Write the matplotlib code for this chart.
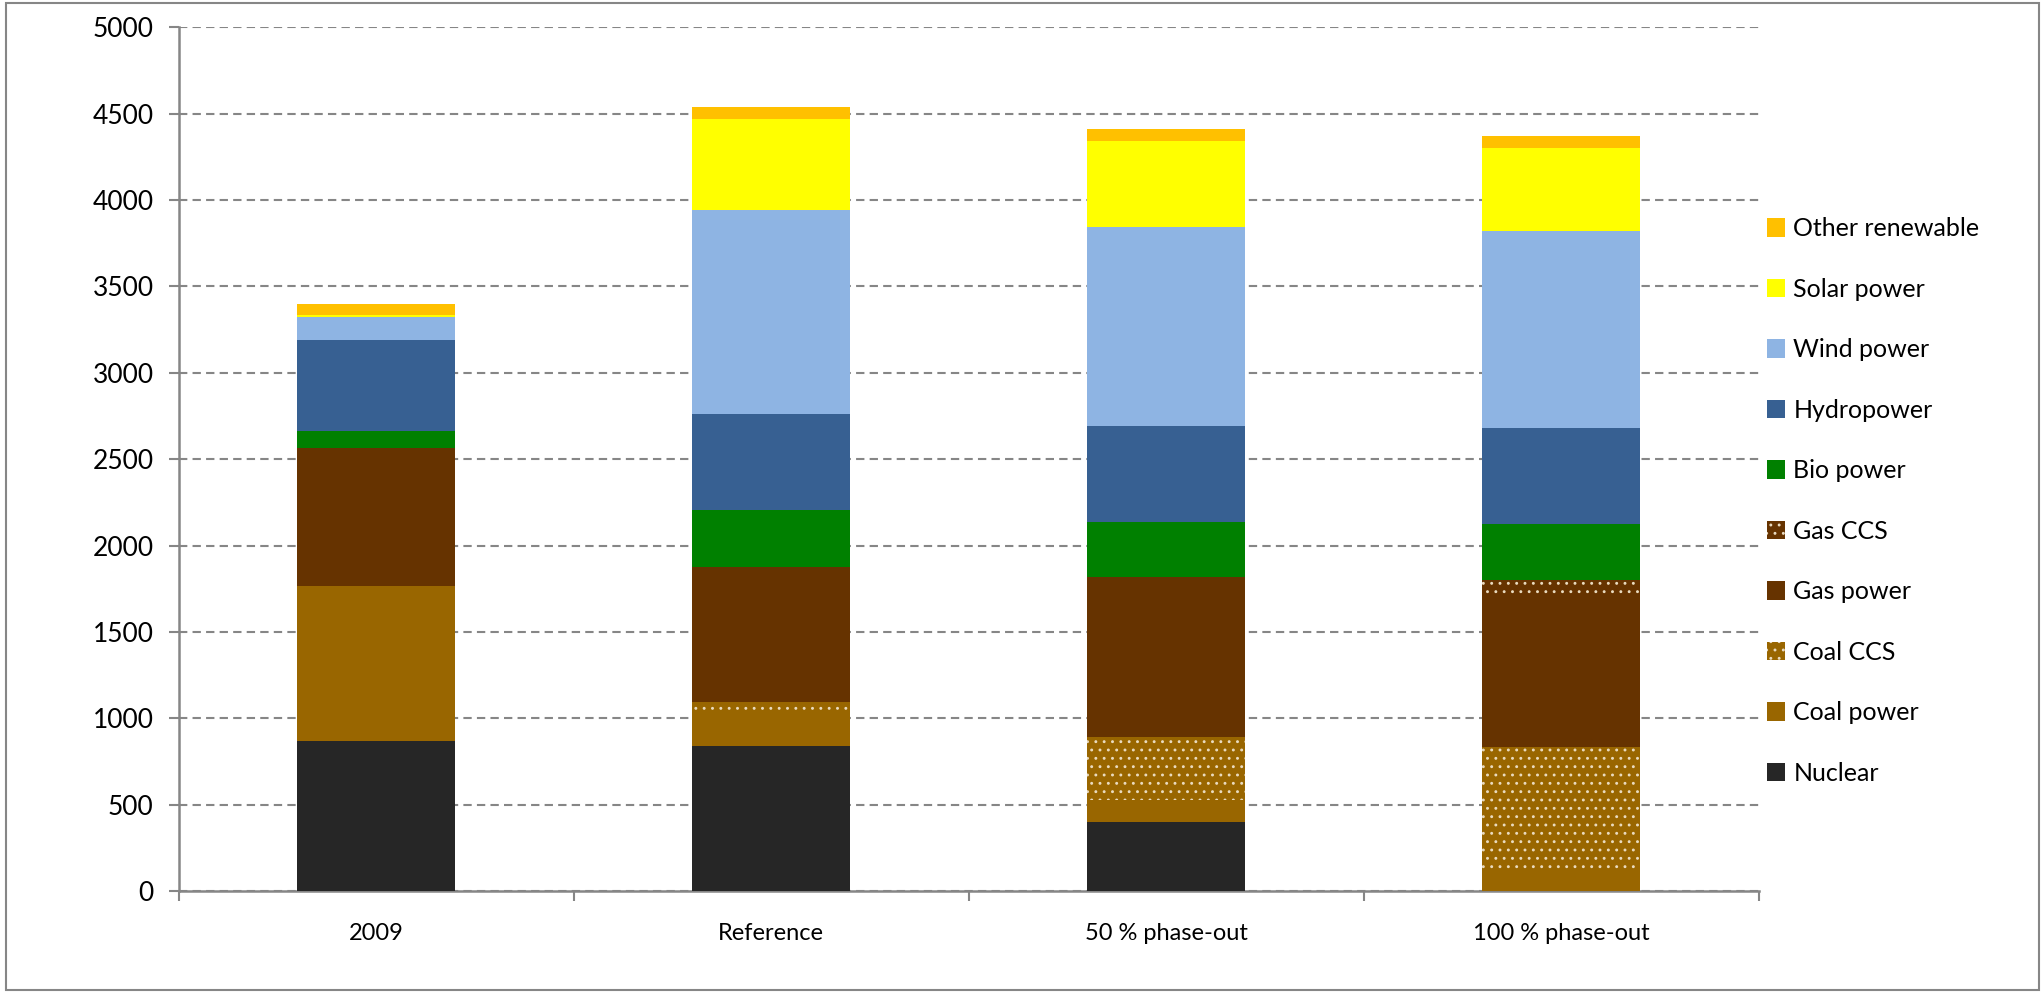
import numpy as np
import matplotlib
matplotlib.use("Agg")
import matplotlib.pyplot as plt
from matplotlib.patches import Rectangle

plt.rcParams['font.family'] = ['Lato', 'DejaVu Sans']
plt.rcParams['hatch.linewidth'] = 0.9

categories = ['2009', 'Reference', '50 % phase-out', '100 % phase-out']

# stack order bottom -> top
sources = ['Nuclear', 'Coal power', 'Coal CCS', 'Gas power', 'Gas CCS',
           'Bio power', 'Hydropower', 'Wind power', 'Solar power', 'Other renewable']
nuclear = [869, 840, 400, 0]
coal_power = [899, 183, 129, 120]
coal_ccs = [0, 70, 361, 714]
gas_power = [798, 782, 903, 865]
gas_ccs = [0, 0, 24, 104]
bio_power = [99, 332, 320, 319]
hydropower = [523, 554, 556, 556]
wind_power = [133, 1179, 1149, 1141]
solar_power = [14, 527, 498, 482]
other_renewable = [62, 73, 71, 72]

values = [nuclear, coal_power, coal_ccs, gas_power, gas_ccs,
          bio_power, hydropower, wind_power, solar_power, other_renewable]
colors = ['#262626', '#996600', '#996600', '#663300', '#663300',
          '#008000', '#376092', '#8EB4E3', '#FFFF00', '#FFC000']
hatched = ['Coal CCS', 'Gas CCS']

fig = plt.figure(figsize=(20.43, 9.92), dpi=100)
ax = fig.add_axes([0.0874, 0.1018, 0.7736, 0.8706])

x = np.arange(len(categories))
bottom = np.zeros(len(categories))
for name, vals, col in zip(sources, values, colors):
    vals = np.array(vals, dtype=float)
    if name in hatched:
        ax.bar(x, vals, 0.4, bottom=bottom, color=col, edgecolor='#EADBC0',
               linewidth=0, hatch='..', label=name, zorder=3)
    else:
        ax.bar(x, vals, 0.4, bottom=bottom, color=col, linewidth=0,
               label=name, zorder=3)
    bottom += vals

grey = '#868686'
ax.set_xlim(-0.5, len(categories) - 0.5)
ax.set_ylim(0, 5000)
ax.set_yticks(np.arange(0, 5001, 500))
ax.yaxis.grid(True, color=grey, linestyle=(0, (4, 2.5)), linewidth=1.5, zorder=0)
ax.set_axisbelow(True)

for s in ['top', 'right']:
    ax.spines[s].set_visible(False)
for s in ['left', 'bottom']:
    ax.spines[s].set_color(grey)
    ax.spines[s].set_linewidth(1.8)

ax.set_xticks(x)
ax.set_xticklabels(categories)
ax.set_xticks(np.arange(-0.5, len(categories)), minor=True)
ax.tick_params(axis='x', which='major', length=0, pad=23, labelsize=17)
ax.tick_params(axis='x', which='minor', length=7, width=1.5, color=grey, direction='out')
ax.tick_params(axis='y', length=7, width=1.5, color=grey, direction='out', pad=11, labelsize=19)

handles, labels = ax.get_legend_handles_labels()
leg = fig.legend(handles[::-1], labels[::-1], loc='center left',
                 bbox_to_anchor=(0.854, 0.495), frameon=False, fontsize=18,
                 labelspacing=1.5, handlelength=0.7, handleheight=0.75,
                 handletextpad=0.35)

fig.patches.append(Rectangle((0.003, 0.002), 0.995, 0.995, transform=fig.transFigure,
                             fill=False, edgecolor=grey, linewidth=1.5))

fig.savefig('out.png', dpi=100)
